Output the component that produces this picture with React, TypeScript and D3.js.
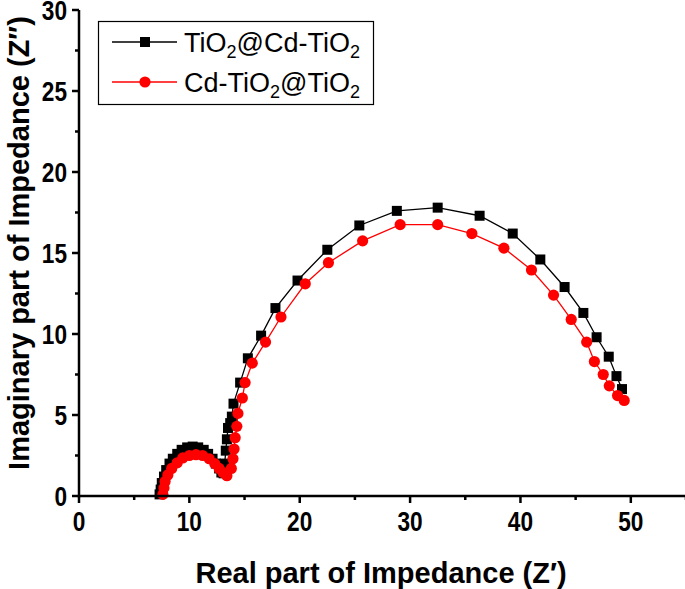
import React from "react";
import * as d3 from "d3";

// TiO2@Cd-TiO2 (black squares)
const blackX = [
  7.3, 7.4, 7.5, 7.7, 7.9, 8.2, 8.5, 8.9, 9.3, 9.8, 10.3, 10.8, 11.3, 11.7, 12.1, 12.4, 12.7, 12.9, 13.1,
  13.2, 13.3, 13.4, 13.5, 13.7, 13.85, 14.0, 14.6, 15.3, 16.5, 17.8, 19.8, 22.5, 25.4, 28.8, 32.5, 36.3,
  39.3, 41.8, 44.0, 45.7, 46.9, 48.0, 48.7, 49.2,
];
const blackY = [
  0.1, 0.4, 0.8, 1.2, 1.6, 2.0, 2.3, 2.6, 2.85, 3.0, 3.05, 3.0, 2.85, 2.6, 2.3, 2.0, 1.7, 1.45, 1.4,
  2.0, 2.8, 3.5, 4.2, 4.5, 4.9, 5.7, 7.0, 8.5, 9.9, 11.6, 13.3, 15.2, 16.7, 17.6, 17.8, 17.3,
  16.2, 14.6, 12.9, 11.3, 9.8, 8.6, 7.4, 6.6,
];

// Cd-TiO2@TiO2 (red circles)
const redX = [
  7.6, 7.7, 7.8, 8.05, 8.4, 8.9, 9.4, 10.0, 10.6, 11.2, 11.8, 12.3, 12.7, 13.05, 13.4,
  13.8, 13.95, 14.05, 14.15, 14.3, 14.4, 14.8, 15.05, 15.7, 16.9, 18.3, 20.5, 22.6, 25.7, 29.1,
  32.5, 35.6, 38.5, 41.0, 43.0, 44.6, 46.0, 46.7, 47.5, 48.05, 48.8, 49.4,
];
const redY = [
  0.1, 0.5, 0.9, 1.3, 1.7, 2.05, 2.35, 2.5, 2.55, 2.5, 2.3, 2.0, 1.7, 1.45, 1.25,
  1.7, 2.3, 2.9, 3.6, 4.3, 5.1, 6.05, 7.0, 8.2, 9.5, 11.05, 13.1, 14.4, 15.75, 16.75,
  16.75, 16.2, 15.3, 13.95, 12.4, 10.9, 9.5, 8.3, 7.5, 6.8, 6.2, 5.9,
];

const xMajor = [0, 10, 20, 30, 40, 50];
const xMinor = [5, 15, 25, 35, 45, 55];
const yMajor = [0, 5, 10, 15, 20, 25, 30];
const yMinor = [2.5, 7.5, 12.5, 17.5, 22.5, 27.5];

const W = 685;
const H = 589;

export default function App() {
  const x = d3.scaleLinear().domain([0, 55]).range([79, 686]);
  const y = d3.scaleLinear().domain([0, 30]).range([496, 10]);

  const black = blackX.map((v, i) => [v, blackY[i]] as [number, number]);
  const red = redX.map((v, i) => [v, redY[i]] as [number, number]);
  const line = d3
    .line<[number, number]>()
    .x((d) => x(d[0]))
    .y((d) => y(d[1]));

  const font = "'Liberation Sans', Arial, sans-serif";
  const sq = 10;

  return (
    <svg
      width={W}
      height={H}
      style={{ position: "absolute", left: 0, top: 0, background: "#fff" }}
      fontFamily={font}
    >
      {/* series */}
      <path d={line(black) ?? ""} fill="none" stroke="#000" strokeWidth={1.3} />
      {black.map((d, i) => (
        <rect key={"b" + i} x={x(d[0]) - sq / 2} y={y(d[1]) - sq / 2} width={sq} height={sq} fill="#000" />
      ))}
      <path d={line(red) ?? ""} fill="none" stroke="#ff0000" strokeWidth={1.3} />
      {red.map((d, i) => (
        <circle key={"r" + i} cx={x(d[0])} cy={y(d[1])} r={5.6} fill="#ff0000" />
      ))}

      {/* axes */}
      <line x1={x(0)} x2={x(55)} y1={y(0)} y2={y(0)} stroke="#000" strokeWidth={2.5} />
      <line x1={x(0)} x2={x(0)} y1={y(0) + 1.25} y2={y(30)} stroke="#000" strokeWidth={2.5} />
      {xMajor.map((t) => (
        <g key={"xt" + t}>
          <line x1={x(t)} x2={x(t)} y1={y(0)} y2={y(0) + 7} stroke="#000" strokeWidth={2.5} />
          <text
            transform={`translate(${x(t)},${y(0) + 35}) scale(0.84,1)`}
            textAnchor="middle"
            fontSize={27}
            fontWeight="bold"
          >
            {t}
          </text>
        </g>
      ))}
      {xMinor.map((t) => (
        <line key={"xm" + t} x1={x(t)} x2={x(t)} y1={y(0)} y2={y(0) + 4} stroke="#000" strokeWidth={2.5} />
      ))}
      {yMajor.map((t) => (
        <g key={"yt" + t}>
          <line x1={x(0) - 7} x2={x(0)} y1={y(t)} y2={y(t)} stroke="#000" strokeWidth={2.5} />
          <text
            transform={`translate(${x(0) - 12},${y(t) + 9.5}) scale(0.84,1)`}
            textAnchor="end"
            fontSize={27}
            fontWeight="bold"
          >
            {t}
          </text>
        </g>
      ))}
      {yMinor.map((t) => (
        <line key={"ym" + t} x1={x(0) - 4} x2={x(0)} y1={y(t)} y2={y(t)} stroke="#000" strokeWidth={2.5} />
      ))}

      {/* axis titles */}
      <text x={381} y={583} textAnchor="middle" fontSize={29} fontWeight="bold">
        Real part of Impedance (Z′)
      </text>
      <text
        transform={`translate(29,${243}) rotate(-90)`}
        textAnchor="middle"
        fontSize={29}
        fontWeight="bold"
      >
        Imaginary part of Impedance (Z″)
      </text>

      {/* legend */}
      <rect x={98.5} y={21.5} width={275} height={83} fill="#fff" stroke="#000" strokeWidth={1.2} />
      <line x1={112} x2={177} y1={42} y2={42} stroke="#000" strokeWidth={1.3} />
      <rect x={145 - sq / 2} y={42 - sq / 2} width={sq} height={sq} fill="#000" />
      <line x1={112} x2={177} y1={82} y2={82} stroke="#ff0000" strokeWidth={1.3} />
      <circle cx={145} cy={82} r={5.6} fill="#ff0000" />
      <text x={184} y={52} fontSize={27}>
        TiO<tspan fontSize={18} dy={6}>2</tspan>
        <tspan dy={-6}>@Cd-TiO</tspan>
        <tspan fontSize={18} dy={6}>2</tspan>
      </text>
      <text x={184} y={92} fontSize={27}>
        Cd-TiO<tspan fontSize={18} dy={6}>2</tspan>
        <tspan dy={-6}>@TiO</tspan>
        <tspan fontSize={18} dy={6}>2</tspan>
      </text>
    </svg>
  );
}
